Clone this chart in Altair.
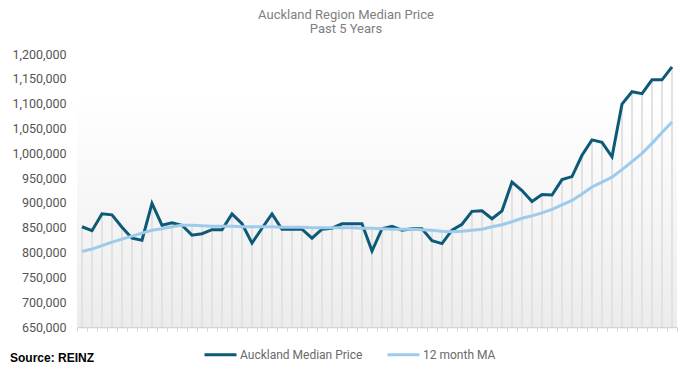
import altair as alt
import pandas as pd

months = list(range(60))
median_price = [852000, 844000, 878000, 876000, 851000, 829000, 825000, 899000, 855000, 860000,
                855000, 835000, 838000, 846000, 846000, 878000, 858000, 819000, 849000, 878000,
                847000, 847000, 847000, 829000, 847000, 849000, 858000, 858000, 858000, 803000,
                848000, 853000, 845000, 848000, 848000, 824000, 818000, 845000, 857000, 883000,
                884000, 868000, 884000, 942000, 925000, 903000, 917000, 916000, 947000, 953000,
                996000, 1027000, 1022000, 993000, 1099000, 1124000, 1120000, 1148000, 1148000, 1174000]
moving_avg = [802000, 807000, 814000, 821000, 827000, 833000, 839000, 845000, 848000, 852000,
              855000, 855000, 854000, 853000, 853000, 853000, 852000, 852000, 852000, 852000,
              851000, 851000, 851000, 850000, 850000, 850000, 850000, 850000, 849000, 849000,
              848000, 847000, 847000, 847000, 846000, 845000, 843000, 842000, 843000, 845000,
              847000, 852000, 856000, 862000, 869000, 874000, 880000, 887000, 896000, 905000,
              918000, 932000, 942000, 952000, 967000, 983000, 1000000, 1020000, 1042000, 1063000]
series_names = ["Auckland Median Price", "12 month MA"]
series_colors = ["#0d5a78", "#9ecbeb"]
y_ticks = list(range(650000, 1200001, 50000))
x_ticks = [i - 0.5 for i in range(61)]

W, H = 600, 273

df = pd.DataFrame({"m": months, series_names[0]: median_price, series_names[1]: moving_avg})
long = df.melt(id_vars="m", var_name="series", value_name="price")
drops = pd.DataFrame({"m": months, "top": [max(a, b) for a, b in zip(median_price, moving_avg)]})

xscale = alt.Scale(domain=[-0.5, 59.5], nice=False, zero=False)
yscale = alt.Scale(domain=[650000, 1200000], nice=False, zero=False)

xaxis = alt.Axis(values=x_ticks, labels=False, title=None, grid=False, tickCount=61,
                 tickSize=4, tickColor="#d4d4d4", domainColor="#d4d4d4", domainWidth=1.5)
yaxis = alt.Axis(values=y_ticks, format=",.0f", title=None, grid=False, domain=False, ticks=False,
                 labelOverlap=False, labelPadding=11, labelFontSize=12.5, labelColor="#555555",
                 labelFont="Roboto")

bg = alt.Chart(pd.DataFrame({"a": [0]})).mark_rect(
    color={"gradient": "linear", "x1": 0, "y1": 0, "x2": 0, "y2": 1,
           "stops": [{"offset": 0, "color": "#ffffff"}, {"offset": 0.15, "color": "#ffffff"},
                     {"offset": 1, "color": "#ececec"}]}
).encode(x=alt.value(0), x2=alt.value(W), y=alt.value(0), y2=alt.value(H))

rules = alt.Chart(drops).mark_rule(color="#e2e2e2", strokeWidth=2).encode(
    x=alt.X("m:Q", scale=xscale, axis=xaxis),
    y=alt.Y("top:Q", scale=yscale, axis=yaxis),
    y2=alt.value(H),
)

lines = alt.Chart(long).mark_line(strokeWidth=3, strokeJoin="miter").encode(
    x=alt.X("m:Q", scale=xscale, axis=xaxis),
    y=alt.Y("price:Q", scale=yscale, axis=yaxis),
    color=alt.Color("series:N", sort=series_names,
                    scale=alt.Scale(domain=series_names, range=series_colors),
                    legend=alt.Legend(title=None, orient="none", direction="horizontal",
                                      legendX=126, legendY=283, symbolType="stroke",
                                      symbolSize=1024, symbolStrokeWidth=3, labelOffset=2,
                                      columnPadding=18, labelFontSize=12, labelColor="#6a6a6a",
                                      labelFont="Roboto")),
    order=alt.Order("m:Q"),
)

source = alt.Chart(pd.DataFrame({"t": ["Source: REINZ"]})).mark_text(
    align="left", baseline="middle", fontSize=12, fontWeight="bold", color="#000000",
    font="Liberation Sans"
).encode(text="t:N", x=alt.value(-67), y=alt.value(H + 31))

chart = alt.layer(bg, rules, lines, source).properties(
    width=W, height=H,
    title=alt.TitleParams(["Auckland Region Median Price", "Past 5 Years"], fontSize=13,
                          fontWeight="normal", color="#808080", font="Roboto", anchor="middle",
                          dx=-31, lineHeight=14, offset=12),
    autosize=alt.AutoSizeParams(type="none"),
    padding={"left": 69, "top": 46, "right": 6, "bottom": 37},
).configure_view(stroke=None)

chart.save("out.html", embed_options={"renderer": "svg", "actions": False})
